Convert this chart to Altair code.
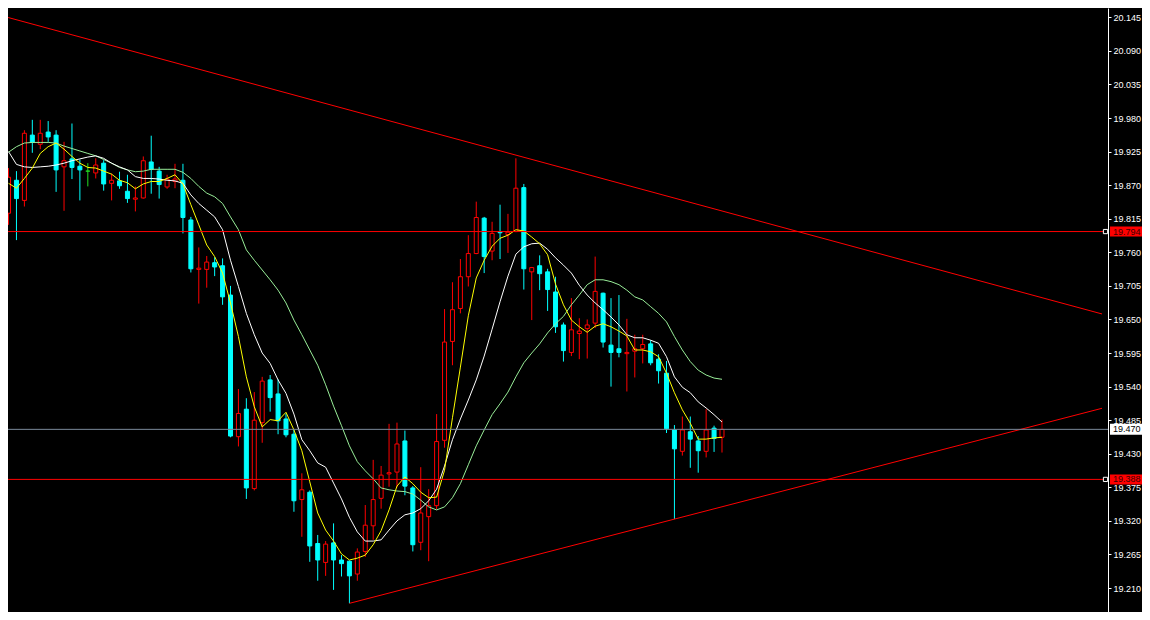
import altair as alt
import pandas as pd
import numpy as np

# ---------------- data ----------------
idx = list(range(91))

opens = [19.824, 19.878, 19.845, 19.952, 19.937, 19.957, 19.952, 19.900, 19.913, 19.901,
         19.893, 19.890, 19.906, 19.873, 19.877, 19.860, 19.847, 19.849, 19.908, 19.893,
         19.867, 19.876, 19.878, 19.813, 19.732, 19.732, 19.743, 19.738, 19.690, 19.458,
         19.503, 19.373, 19.481, 19.551, 19.528, 19.487, 19.462, 19.355, 19.367, 19.283,
         19.252, 19.284, 19.256, 19.254, 19.233, 19.270, 19.312, 19.357, 19.397, 19.400,
         19.451, 19.374, 19.285, 19.327, 19.345, 19.452, 19.614, 19.668, 19.720, 19.758,
         19.816, 19.762, 19.793, 19.789, 19.794, 19.866, 19.728, 19.738, 19.728, 19.695,
         19.641, 19.596, 19.627, 19.635, 19.644, 19.693, 19.608, 19.602, 19.594, 19.598,
         19.602, 19.610, 19.585, 19.562, 19.469, 19.434, 19.466, 19.451, 19.434, 19.472,
         19.457]

highs = [19.898, 19.893, 19.960, 19.977, 19.977, 19.975, 19.960, 19.941, 19.971, 19.912,
         19.906, 19.914, 19.911, 19.889, 19.892, 19.887, 19.868, 19.917, 19.951, 19.900,
         19.887, 19.905, 19.905, 19.818, 19.768, 19.754, 19.752, 19.750, 19.705, 19.536,
         19.521, 19.531, 19.556, 19.559, 19.552, 19.496, 19.470, 19.398, 19.370, 19.297,
         19.287, 19.316, 19.264, 19.255, 19.275, 19.346, 19.420, 19.410, 19.479, 19.481,
         19.468, 19.377, 19.408, 19.372, 19.495, 19.667, 19.711, 19.749, 19.788, 19.843,
         19.818, 19.810, 19.838, 19.823, 19.914, 19.872, 19.736, 19.755, 19.733, 19.720,
         19.645, 19.685, 19.652, 19.650, 19.753, 19.694, 19.685, 19.690, 19.651, 19.625,
         19.625, 19.616, 19.593, 19.582, 19.477, 19.491, 19.491, 19.459, 19.503, 19.476,
         19.486]

lows = [19.805, 19.780, 19.835, 19.923, 19.929, 19.941, 19.859, 19.828, 19.880, 19.845,
        19.868, 19.881, 19.861, 19.845, 19.864, 19.841, 19.827, 19.848, 19.856, 19.848,
        19.864, 19.865, 19.791, 19.727, 19.676, 19.702, 19.721, 19.674, 19.457, 19.442,
        19.356, 19.370, 19.448, 19.499, 19.462, 19.457, 19.335, 19.294, 19.253, 19.222,
        19.230, 19.207, 19.229, 19.185, 19.222, 19.261, 19.289, 19.340, 19.376, 19.375,
        19.362, 19.270, 19.272, 19.254, 19.339, 19.440, 19.575, 19.660, 19.704, 19.757,
        19.726, 19.747, 19.749, 19.759, 19.793, 19.699, 19.649, 19.698, 19.664, 19.628,
        19.581, 19.590, 19.585, 19.586, 19.636, 19.604, 19.540, 19.588, 19.532, 19.555,
        19.578, 19.575, 19.545, 19.464, 19.323, 19.427, 19.407, 19.399, 19.424, 19.433,
        19.432]

closes = [19.883, 19.848, 19.955, 19.940, 19.955, 19.949, 19.895, 19.910, 19.899, 19.895,
          19.893, 19.903, 19.872, 19.878, 19.869, 19.848, 19.849, 19.910, 19.896, 19.871,
          19.880, 19.880, 19.817, 19.733, 19.734, 19.744, 19.736, 19.687, 19.459, 19.496,
          19.374, 19.485, 19.549, 19.522, 19.484, 19.461, 19.353, 19.371, 19.279, 19.256,
          19.282, 19.256, 19.250, 19.230, 19.269, 19.313, 19.355, 19.395, 19.399, 19.446,
          19.377, 19.281, 19.333, 19.345, 19.450, 19.613, 19.666, 19.720, 19.758, 19.817,
          19.753, 19.791, 19.792, 19.793, 19.865, 19.733, 19.735, 19.725, 19.699, 19.638,
          19.599, 19.633, 19.631, 19.641, 19.696, 19.613, 19.596, 19.596, 19.596, 19.602,
          19.609, 19.579, 19.566, 19.471, 19.438, 19.469, 19.454, 19.435, 19.469, 19.455,
          19.470]

ma_yellow = [19.873, 19.865, 19.881, 19.898, 19.922, 19.933, 19.939, 19.929, 19.917, 19.906,
             19.899, 19.898, 19.893, 19.888, 19.878, 19.874, 19.864, 19.872, 19.876, 19.876,
             19.881, 19.887, 19.872, 19.838, 19.805, 19.772, 19.753, 19.726, 19.677, 19.622,
             19.556, 19.507, 19.474, 19.486, 19.484, 19.498, 19.469, 19.435, 19.384, 19.333,
             19.305, 19.287, 19.266, 19.256, 19.259, 19.264, 19.281, 19.304, 19.338, 19.377,
             19.392, 19.381, 19.367, 19.358, 19.359, 19.403, 19.489, 19.572, 19.656, 19.718,
             19.747, 19.770, 19.783, 19.788, 19.797, 19.795, 19.785, 19.774, 19.756, 19.708,
             19.674, 19.649, 19.638, 19.629, 19.639, 19.643, 19.638, 19.631, 19.623, 19.600,
             19.600, 19.597, 19.589, 19.562, 19.530, 19.502, 19.480, 19.454, 19.454, 19.456,
             19.457]

ma_white = [19.925, 19.904, 19.900, 19.899, 19.900, 19.901, 19.903, 19.906, 19.910, 19.913,
            19.916, 19.918, 19.914, 19.906, 19.900, 19.895, 19.884, 19.881, 19.881, 19.880,
            19.878, 19.877, 19.873, 19.854, 19.840, 19.829, 19.818, 19.797, 19.747, 19.704,
            19.660, 19.625, 19.595, 19.578, 19.551, 19.529, 19.495, 19.453, 19.435, 19.415,
            19.408, 19.382, 19.356, 19.326, 19.302, 19.287, 19.287, 19.289, 19.305, 19.320,
            19.330, 19.333, 19.340, 19.353, 19.372, 19.410, 19.453, 19.487, 19.518, 19.551,
            19.590, 19.634, 19.679, 19.721, 19.757, 19.769, 19.774, 19.775, 19.765, 19.751,
            19.739, 19.726, 19.706, 19.690, 19.677, 19.666, 19.654, 19.641, 19.625, 19.620,
            19.620, 19.616, 19.611, 19.589, 19.556, 19.539, 19.530, 19.515, 19.505, 19.494,
            19.482]

ma_green = [19.924, 19.933, 19.939, 19.940, 19.940, 19.940, 19.939, 19.934, 19.930, 19.926,
            19.922, 19.918, 19.912, 19.906, 19.899, 19.895, 19.892, 19.893, 19.896, 19.896,
            19.896, 19.896, 19.891, 19.881, 19.868, 19.857, 19.851, 19.840, 19.818, 19.797,
            19.764, 19.747, 19.731, 19.715, 19.698, 19.677, 19.649, 19.625, 19.600, 19.575,
            19.543, 19.508, 19.476, 19.443, 19.417, 19.402, 19.389, 19.374, 19.371, 19.369,
            19.368, 19.364, 19.354, 19.343, 19.338, 19.343, 19.358, 19.381, 19.412, 19.443,
            19.469, 19.494, 19.512, 19.531, 19.556, 19.579, 19.595, 19.610, 19.628, 19.643,
            19.655, 19.674, 19.690, 19.707, 19.715, 19.715, 19.712, 19.707, 19.698, 19.687,
            19.682, 19.671, 19.660, 19.646, 19.622, 19.600, 19.581, 19.567, 19.559, 19.554,
            19.552]

# trend lines (bar index, price)
upper_trend_k = [-0.44, 137.94]
upper_trend_p = [20.146, 19.659]
lower_trend_k = [43, 137.94]
lower_trend_p = [19.185, 19.5045]

red_levels = [19.794, 19.388]
gray_levels = [19.470]

y_ticks = [19.210, 19.265, 19.320, 19.375, 19.430, 19.485, 19.540, 19.595, 19.650,
           19.705, 19.760, 19.815, 19.870, 19.925, 19.980, 20.035, 20.090, 20.145]

# ---------------- tables ----------------
df = pd.DataFrame({"k": idx, "o": opens, "h": highs, "l": lows, "c": closes})
df["dir"] = np.where(df.c > df.o, "up", np.where(df.c < df.o, "down", "flat"))

ma = pd.DataFrame({"k": idx, "yellow": ma_yellow, "white": ma_white, "green": ma_green})
up_tr = pd.DataFrame({"k": upper_trend_k, "p": upper_trend_p})
lo_tr = pd.DataFrame({"k": lower_trend_k, "p": lower_trend_p})
red_df = pd.DataFrame({"p": red_levels})
gray_df = pd.DataFrame({"p": gray_levels})
lvl_df = pd.DataFrame({"p": red_levels + gray_levels})

# ---------------- scales ----------------
xscale = alt.Scale(domain=[0.5625, 138.0625], nice=False, zero=False)
yscale = alt.Scale(domain=[19.1708, 20.1602], nice=False, zero=False)
yaxis = alt.Axis(orient="right", values=y_ticks, format=".3f", title=None, grid=False,
                 labelColor="white", tickColor="white", domainColor="white",
                 tickSize=3, labelPadding=2, labelFont="Liberation Sans",
                 labelFontSize=9, labelFlush=False, labelOverlap=False)


def X(field="k"):
    return alt.X(field, type="quantitative", scale=xscale, axis=None)


def Y(field):
    return alt.Y(field, type="quantitative", scale=yscale, axis=yaxis)


stroke_scale = alt.Scale(domain=["up", "down", "flat"], range=["#FF0000", "#00FFFF", "#22DD22"])
fill_scale = alt.Scale(domain=["up", "down", "flat"], range=["#000000", "#00FFFF", "#22DD22"])

wicks = alt.Chart(df).mark_rule(strokeWidth=1, clip=True).encode(
    x=X(), y=Y("l"), y2="h",
    color=alt.Color("dir:N", scale=stroke_scale, legend=None))

bodies = alt.Chart(df).mark_bar(size=4, strokeWidth=1, clip=True).encode(
    x=X(), y=Y("o"), y2="c",
    fill=alt.Fill("dir:N", scale=fill_scale, legend=None),
    stroke=alt.Stroke("dir:N", scale=stroke_scale, legend=None))

line_green = alt.Chart(ma).mark_line(color="#99EE99", strokeWidth=1, clip=True).encode(
    x=X(), y=Y("green"))
line_white = alt.Chart(ma).mark_line(color="#FFFFFF", strokeWidth=1, clip=True).encode(
    x=X(), y=Y("white"))
line_yellow = alt.Chart(ma).mark_line(color="#FFFF00", strokeWidth=1, clip=True).encode(
    x=X(), y=Y("yellow"))

trend_up = alt.Chart(up_tr).mark_line(color="#FF0000", strokeWidth=1, clip=True).encode(
    x=X(), y=Y("p"))
trend_lo = alt.Chart(lo_tr).mark_line(color="#FF0000", strokeWidth=1, clip=True).encode(
    x=X(), y=Y("p"))

hl_red = alt.Chart(red_df).mark_rule(color="#FF0000", strokeWidth=1).encode(
    y=Y("p"), x=alt.value(0), x2=alt.value(1097))
hl_gray = alt.Chart(gray_df).mark_rule(color="#7A8A9A", strokeWidth=1).encode(
    y=Y("p"), x=alt.value(0), x2=alt.value(1100))

markers = alt.Chart(red_df).mark_square(size=18, fill="#000000", stroke="#FFFFFF",
                                        strokeWidth=1, opacity=1).encode(
    y=Y("p"), x=alt.value(1097.5))

box_red = alt.Chart(red_df).mark_rule(color="#FF0000", strokeWidth=10, strokeCap="butt").encode(
    y=Y("p"), x=alt.value(1102), x2=alt.value(1140))
box_gray = alt.Chart(gray_df).mark_rule(color="#FFFFFF", strokeWidth=11, strokeCap="butt").encode(
    y=Y("p"), x=alt.value(1102), x2=alt.value(1140))

txt_red = alt.Chart(red_df).mark_text(align="left", baseline="middle", font="Liberation Sans",
                                      fontSize=9, color="#3A0000").encode(
    y=Y("p"), x=alt.value(1105), text=alt.Text("p:Q", format=".3f"))
txt_gray = alt.Chart(gray_df).mark_text(align="left", baseline="middle", font="Liberation Sans",
                                        fontSize=9, color="#000000").encode(
    y=Y("p"), x=alt.value(1105), text=alt.Text("p:Q", format=".3f"))

chart = alt.layer(
    wicks, bodies, line_green, line_white, line_yellow,
    trend_up, trend_lo, hl_red, hl_gray, markers,
    box_red, box_gray, txt_red, txt_gray
).properties(
    width=1100, height=604, background="#000000",
    padding={"left": 0, "top": 0, "right": 34, "bottom": 0},
    autosize=alt.AutoSizeParams(type="none")
).configure_view(stroke=None)

chart.save("out.html", embed_options={"renderer": "svg", "actions": False})
